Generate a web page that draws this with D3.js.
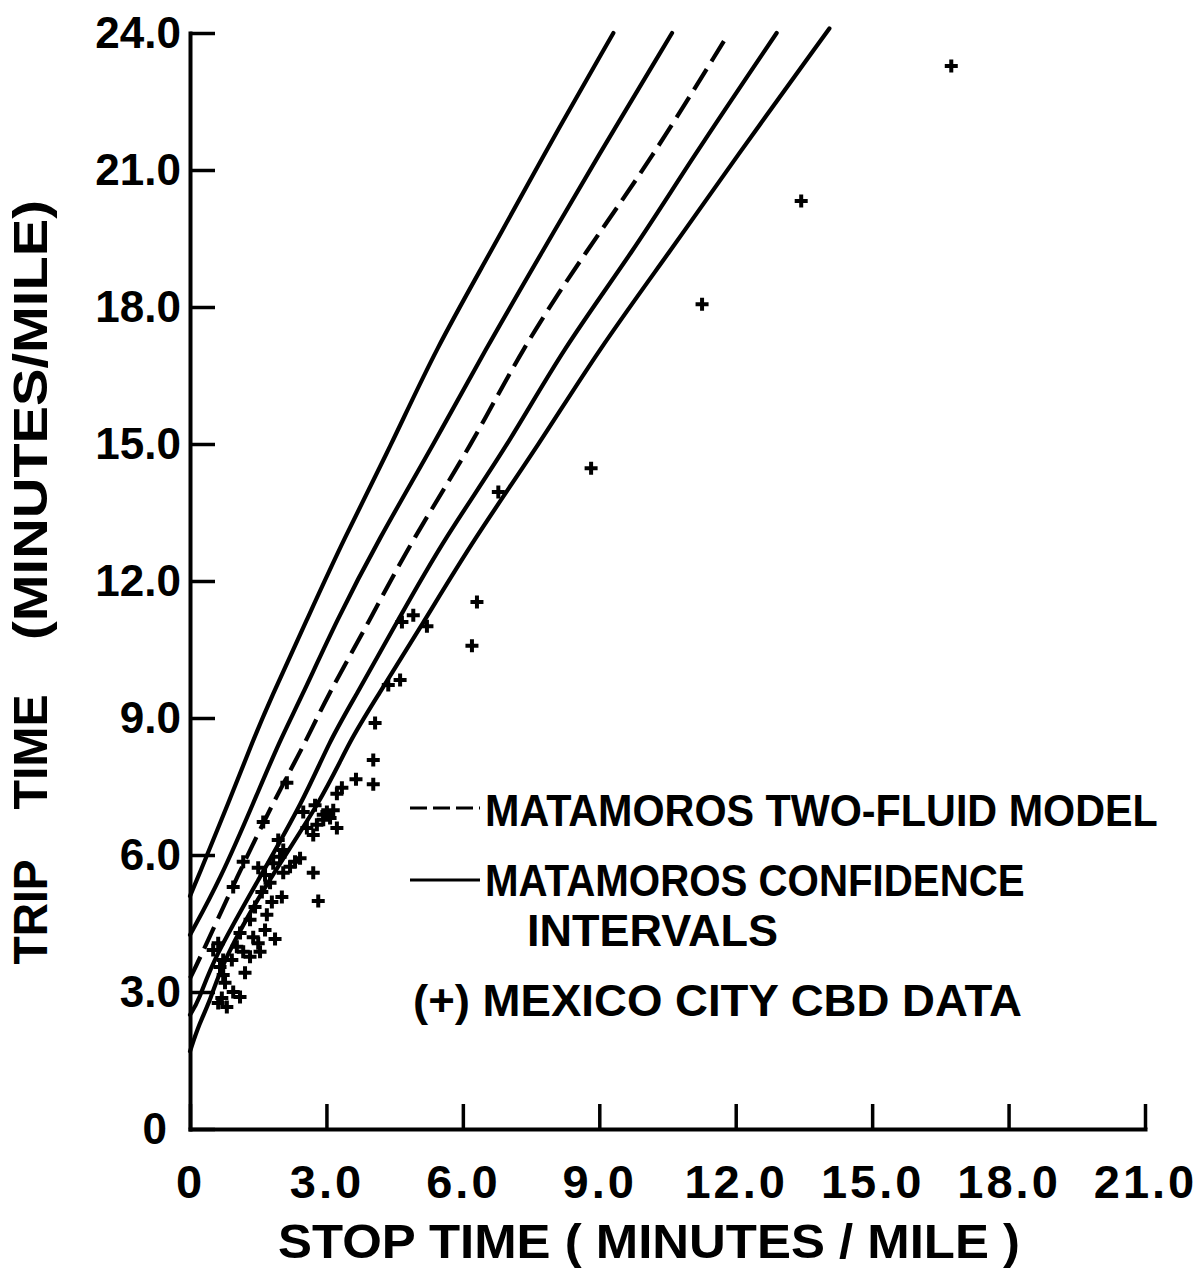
<!DOCTYPE html>
<html>
<head>
<meta charset="utf-8">
<script src="https://cdn.jsdelivr.net/npm/d3@7"></script>
<style>
  html, body { margin: 0; padding: 0; background: #fff; }
  svg { display: block; }
  text { font-family: "Liberation Sans", Arial, sans-serif; font-weight: bold; fill: #000; }
</style>
</head>
<body>
<svg id="chart" width="1201" height="1271"></svg>
<script>
// ---- axis ticks ----
const xTicks = [0, 3, 6, 9, 12, 15, 18, 21];
const xTickLabels = ["0", "3.0", "6.0", "9.0", "12.0", "15.0", "18.0", "21.0"];
const yTicks = [0, 3, 6, 9, 12, 15, 18, 21, 24];
const yTickLabels = ["0", "3.0", "6.0", "9.0", "12.0", "15.0", "18.0", "21.0", "24.0"];

// ---- Matamoros confidence band (solid) and two-fluid model (dashed) ----
// each point: [stop time, trip time] in minutes/mile
const upperOuter = [[0, 5.1], [0.15, 5.45], [0.87, 7.2], [1.39, 8.52], [1.76, 9.39], [2.57, 11.15],
  [3.37, 12.9], [4.43, 14.98], [5.39, 17.06], [6.64, 19.25], [7.7, 21.2], [9.31, 24.0]];
const upperInner = [[0, 4.25], [0.66, 5.45], [1.42, 7.2], [1.98, 8.52], [2.42, 9.39], [3.23, 11.15],
  [4.14, 12.9], [5.35, 14.98], [6.49, 17.06], [7.77, 19.25], [8.91, 21.2], [10.6, 24.0]];
const twoFluidModel = [[0, 3.3], [0.2, 3.7], [1.0, 5.45], [1.85, 7.2], [2.57, 8.52], [2.97, 9.39],
  [3.96, 11.15], [4.88, 12.9], [6.2, 14.98], [7.28, 17.06], [8.73, 19.25], [10.12, 21.2], [11.77, 23.87]];
const lowerInner = [[0, 2.5], [0.2, 2.82], [0.5, 3.7], [1.5, 5.45], [2.5, 7.2], [3.08, 8.52], [3.59, 9.39],
  [4.58, 11.15], [5.57, 12.9], [7.0, 14.98], [8.18, 17.06], [9.77, 19.25], [11.0, 21.2], [12.9, 24.0]];
const lowerOuter = [[0, 1.7], [0.2, 2.3], [0.45, 2.82], [0.73, 3.7], [1.72, 5.45], [2.9, 7.2], [3.52, 8.52],
  [4.07, 9.39], [5.17, 11.15], [6.23, 12.9], [7.67, 14.98], [8.98, 17.06], [10.58, 19.25], [11.95, 21.2], [14.06, 24.1]];

// ---- Mexico City CBD observations: stop time ----
const cbdStop = [16.74, 13.44, 11.26, 8.82, 6.78, 6.31, 6.20, 5.21, 4.91, 4.66, 4.62, 4.36, 4.07, 4.03, 4.03,
  3.65, 3.34, 3.23, 2.75, 2.49, 3.01, 3.15, 2.93, 2.79, 3.23, 2.71, 3.08, 1.94, 2.42, 2.31,
  2.71, 2.05, 1.98, 2.20, 2.05, 1.83, 1.50, 1.17, 1.65, 2.82, 2.02, 1.76, 1.58, 1.80, 1.69,
  1.43, 1.65, 1.87, 1.50, 1.54, 1.32, 1.39, 1.21, 1.17, 0.95, 0.92, 1.03, 0.73, 0.66, 0.73,
  0.77, 1.10, 0.95, 0.70, 0.81, 0.62, 0.51, 0.62, 1.32, 1.10, 2.13, 2.57, 2.93, 1.61];
// ---- Mexico City CBD observations: trip time ----
const cbdTrip = [23.28, 20.32, 18.06, 14.47, 13.95, 11.54, 10.58, 11.01, 11.25, 11.10, 9.83, 9.72, 8.89, 8.08, 7.55,
  7.66, 7.47, 7.34, 7.09, 6.94, 6.94, 6.98, 6.77, 6.66, 6.59, 6.44, 6.81, 6.33, 5.93, 5.85,
  5.61, 6.11, 5.96, 5.74, 5.61, 5.82, 5.72, 5.85, 5.56, 4.99, 5.08, 5.39, 5.19, 4.97, 4.69,
  4.86, 4.36, 4.16, 4.07, 3.88, 3.77, 4.20, 3.42, 3.88, 5.30, 3.70, 3.99, 3.70, 3.55, 3.37,
  3.20, 2.89, 3.00, 2.87, 2.67, 2.76, 3.92, 4.07, 4.58, 4.29, 7.58, 6.59, 6.88, 6.72];

// ---- text ----
const xTitle = "STOP  TIME  ( MINUTES / MILE )";
const yTitleWords = ["TRIP", "TIME", "(MINUTES/MILE)"];
const legendLabels = ["MATAMOROS TWO-FLUID MODEL", "MATAMOROS CONFIDENCE", "INTERVALS", "(+) MEXICO CITY CBD DATA"];

// ---- drawing ----
const svg = d3.select("#chart");
svg.append("rect").attr("width", 1201).attr("height", 1271).attr("fill", "#fff");

const x = d3.scaleLinear().domain([0, 21]).range([190, 1145]);
const y = d3.scaleLinear().domain([0, 24]).range([1129, 33]);

const INK = "#000";
const AXIS_W = 4;

// Place a text at (tx, ty), squeezed horizontally to the given width.
function squeezedText(parent, str, tx, ty, width, size, anchor, rotate) {
  const g = parent.append("g");
  const t = g.append("text").attr("font-size", size).attr("text-anchor", anchor || "start").text(str);
  const natural = t.node().getComputedTextLength();
  const sx = width / natural;
  g.attr("transform", `translate(${tx},${ty})` + (rotate ? ` rotate(${rotate})` : "") + ` scale(${sx},1)`);
  return g;
}

// y axis (ticks point into the plot)
const gy = svg.append("g")
  .attr("transform", `translate(${x(0)},0)`)
  .call(d3.axisLeft(y).tickValues(yTicks).tickFormat((d, i) => yTickLabels[i])
    .tickSizeInner(-25).tickSizeOuter(0).tickPadding(9));

// x axis (ticks point up)
const gx = svg.append("g")
  .attr("transform", `translate(0,${y(0)})`)
  .call(d3.axisBottom(x).tickValues(xTicks).tickFormat((d, i) => xTickLabels[i])
    .tickSizeInner(-25).tickSizeOuter(0).tickPadding(36));

[gx, gy].forEach(g => {
  g.select(".domain").attr("stroke", INK).attr("stroke-width", AXIS_W).attr("stroke-linecap", "square");
  g.selectAll(".tick line").attr("stroke", INK).attr("stroke-width", 3.5);
  g.selectAll(".tick text").attr("fill", INK).attr("font-size", 44)
    .attr("font-family", '"Liberation Sans", Arial, sans-serif').attr("font-weight", "bold");
});
gx.selectAll(".tick text").attr("font-size", 47).attr("letter-spacing", 3);
gy.selectAll(".tick text").filter((d, i) => i === 0).attr("dx", -14);

// curves
const line = d3.line().x(d => x(d[0])).y(d => y(d[1])).curve(d3.curveBasis);
const plot = svg.append("g").attr("fill", "none").attr("stroke", INK).attr("stroke-linecap", "round");
[upperOuter, upperInner, lowerInner, lowerOuter].forEach(s => {
  plot.append("path").attr("d", line(s)).attr("stroke-width", 4.2);
});
plot.append("path").attr("d", line(twoFluidModel)).attr("stroke-width", 4.2)
  .attr("stroke-dasharray", "24,9").attr("stroke-linecap", "butt");

// data markers
const cbd = cbdStop.map((s, i) => [s, cbdTrip[i]]);
svg.append("g").selectAll("path").data(cbd).join("path")
  .attr("transform", d => `translate(${x(d[0])},${y(d[1])})`)
  .attr("d", "M-6.5,0H6.5M0,-6.5V6.5")
  .attr("stroke", INK).attr("stroke-width", 4).attr("fill", "none");

// axis titles
squeezedText(svg, xTitle, 649, 1258, 742, 48, "middle");
// y title, word by word: [centre, width]
const yTitleSpans = [[912, 105], [752, 115], [420, 440]];
yTitleWords.forEach((w, i) => {
  squeezedText(svg, w, 47, yTitleSpans[i][0], yTitleSpans[i][1], 48, "middle", -90);
});

// legend
const lg = svg.append("g");
lg.append("line").attr("x1", 410).attr("x2", 480).attr("y1", 808).attr("y2", 808)
  .attr("stroke", INK).attr("stroke-width", 3).attr("stroke-dasharray", "17,6");
lg.append("line").attr("x1", 410).attr("x2", 480).attr("y1", 880).attr("y2", 880)
  .attr("stroke", INK).attr("stroke-width", 3);
const legendPos = [[485, 826, 673], [485, 896, 540], [527, 946, 251], [413, 1016, 609]];
legendLabels.forEach((t, i) => {
  const [lx, ly, w] = legendPos[i];
  squeezedText(lg, t, lx, ly, w, 44, "start");
});
</script>
</body>
</html>
